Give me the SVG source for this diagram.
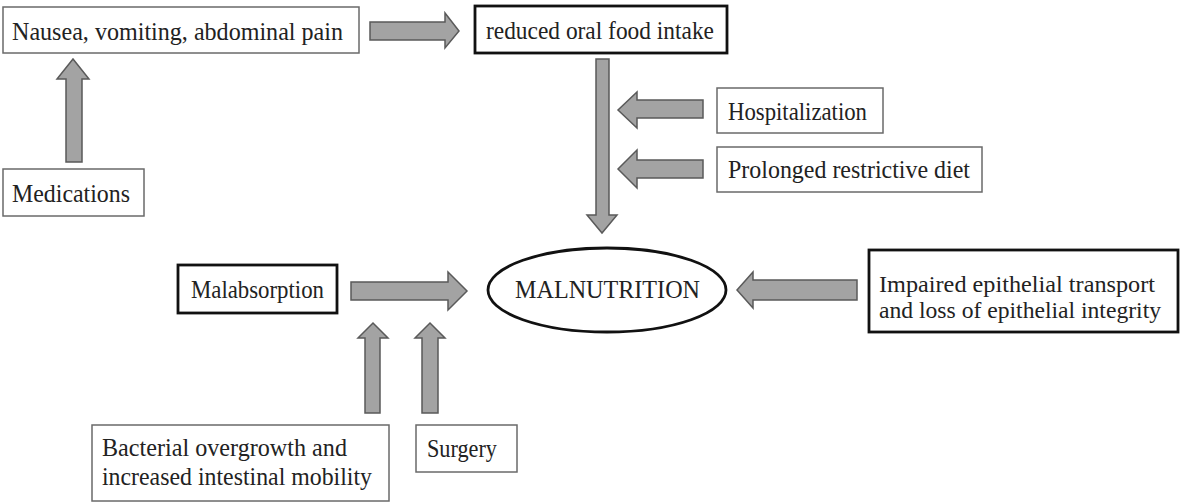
<svg xmlns="http://www.w3.org/2000/svg" width="1181" height="503" viewBox="0 0 1181 503">
<style>
.thin{fill:#fff;stroke:#6a6a6a;stroke-width:1.5}
.thick{fill:#fff;stroke:#111;stroke-width:2.8}
.arr{fill:#a3a3a3;stroke:#5a5a5a;stroke-width:1.5;stroke-linejoin:miter}
.t{font-family:'Liberation Serif','Times New Roman',serif;font-size:26px;fill:#222}
.s{font-size:24px}
</style>
<rect width="1181" height="503" fill="#fff"/>
<g id="connectors">
<polygon class="arr" points="370,22 445,22 445,13 459,31 445,48 445,40 370,40"/>
<polygon class="arr" points="66,162 66,79 57,79 73,59 89,79 82,79 82,162"/>
<polygon class="arr" points="596,59 609,59 609,215 617,215 602,233 587,215 596,215"/>
<polygon class="arr" points="703,100 637,100 637,92 618,110 637,128 637,118 703,118"/>
<polygon class="arr" points="703,160 637,160 637,150 618,169 637,188 637,178 703,178"/>
<polygon class="arr" points="351,282 448,282 448,272 467,291 448,310 448,300 351,300"/>
<polygon class="arr" points="857,280 753,280 753,272 737,290 753,308 753,300 857,300"/>
<polygon class="arr" points="365,413 365,338 358,338 373,323 388,338 380,338 380,413"/>
<polygon class="arr" points="422,413 422,338 415,338 430,323 445,338 438,338 438,413"/>
</g>
<g id="nausea">
<rect class="thin" x="3" y="7" width="356" height="46"/>
<text class="t" x="12" y="40" textLength="331" lengthAdjust="spacingAndGlyphs">Nausea, vomiting, abdominal pain</text>
</g>
<g id="medications">
<rect class="thin" x="3" y="169" width="141" height="47"/>
<text class="t" x="12" y="202" textLength="118" lengthAdjust="spacingAndGlyphs">Medications</text>
</g>
<g id="reduced">
<rect class="thick" x="475" y="6" width="252" height="47"/>
<text class="t" x="486" y="39" textLength="228" lengthAdjust="spacingAndGlyphs">reduced oral food intake</text>
</g>
<g id="hospitalization">
<rect class="thin" x="717" y="88" width="166" height="45"/>
<text class="t" x="728" y="120" textLength="139" lengthAdjust="spacingAndGlyphs">Hospitalization</text>
</g>
<g id="prolonged">
<rect class="thin" x="717" y="147" width="265" height="45"/>
<text class="t" x="728" y="178" textLength="242" lengthAdjust="spacingAndGlyphs">Prolonged restrictive diet</text>
</g>
<g id="malabsorption">
<rect class="thick" x="178" y="265" width="159" height="48"/>
<text class="t" x="191" y="298" textLength="133" lengthAdjust="spacingAndGlyphs">Malabsorption</text>
</g>
<g id="malnutrition">
<ellipse cx="607" cy="290" rx="119" ry="42" fill="#fff" stroke="#111" stroke-width="2.8"/>
<text class="t" x="515" y="298" textLength="185" lengthAdjust="spacingAndGlyphs">MALNUTRITION</text>
</g>
<g id="impaired">
<rect class="thick" x="869" y="250" width="309" height="82"/>
<text class="t s" x="879" y="292" textLength="276" lengthAdjust="spacingAndGlyphs">Impaired epithelial transport</text>
<text class="t s" x="879" y="318" textLength="282" lengthAdjust="spacingAndGlyphs">and loss of epithelial integrity</text>
</g>
<g id="bacterial">
<rect class="thin" x="92" y="425" width="297" height="76"/>
<text class="t" x="102" y="456" textLength="245" lengthAdjust="spacingAndGlyphs">Bacterial overgrowth and</text>
<text class="t" x="102" y="485" textLength="270" lengthAdjust="spacingAndGlyphs">increased intestinal mobility</text>
</g>
<g id="surgery">
<rect class="thin" x="416" y="425" width="101" height="47"/>
<text class="t" x="427" y="457" textLength="70" lengthAdjust="spacingAndGlyphs">Surgery</text>
</g>
</svg>
